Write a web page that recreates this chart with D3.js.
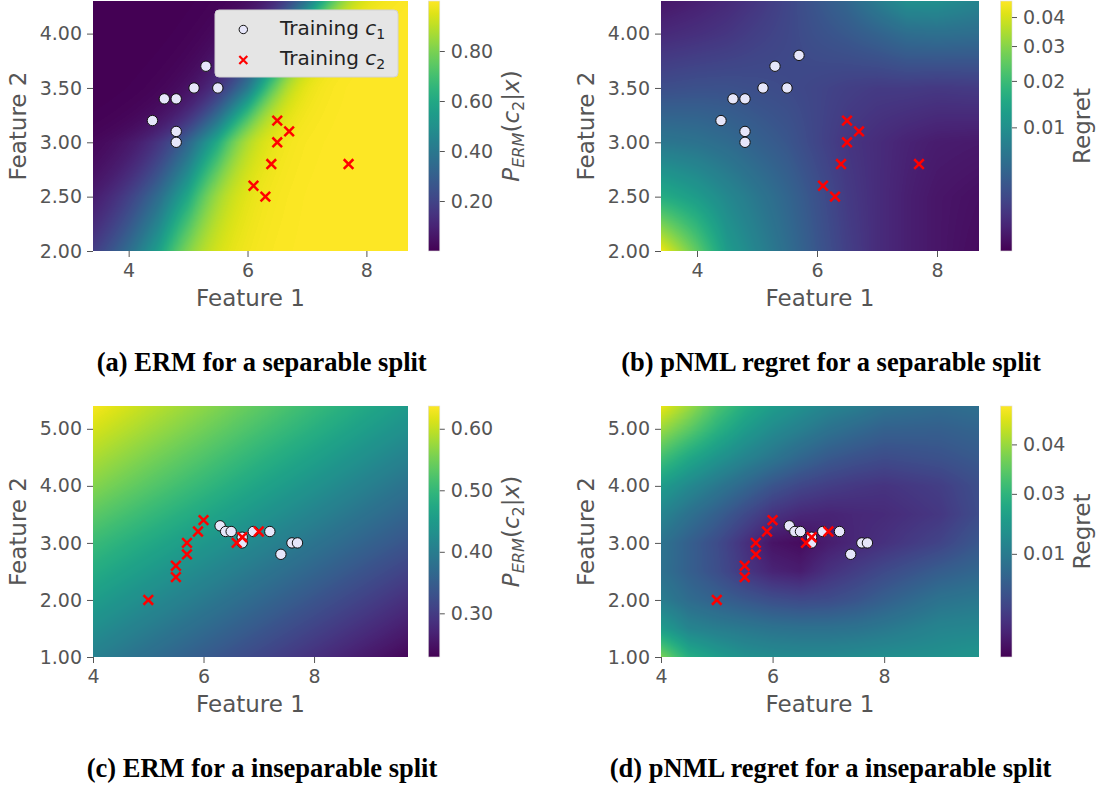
<!DOCTYPE html>
<html><head><meta charset="utf-8">
<script src="https://cdn.jsdelivr.net/npm/d3@7"></script>
<style>
body{margin:0;background:#fff}
svg{display:block}
text{font-family:"DejaVu Sans",sans-serif}
text.caption{font-family:"Liberation Serif","Times New Roman",serif;font-weight:bold}
</style>
</head><body>
<svg id="fig" width="1109" height="790"></svg>
<script>
// ---------------- data ----------------
const sepClass1 = [[4.4,3.2],[4.6,3.4],[4.8,3.4],[4.8,3.1],[4.8,3.0],[5.1,3.5],[5.3,3.7],[5.5,3.5],[5.7,3.8]];
const sepClass2 = [[6.5,3.2],[6.7,3.1],[6.5,3.0],[6.4,2.8],[6.1,2.6],[6.3,2.5],[7.7,2.8]];
const insepClass1 = [[6.3,3.3],[6.4,3.2],[6.5,3.2],[6.7,3.1],[6.7,3.0],[6.9,3.2],[7.2,3.2],[7.4,2.8],[7.6,3.0],[7.7,3.0]];
const insepClass2 = [[5.0,2.0],[5.5,2.4],[5.5,2.6],[5.7,2.8],[5.7,3.0],[5.9,3.2],[6.0,3.4],[6.6,3.0],[6.7,3.1],[7.0,3.2]];

// grid nodes (feature 1, feature 2) for the separable split
const sepGridX = [3.4,4.0,4.5,5.0,5.5,6.0,6.5,7.0,7.5,8.0,8.7];
const sepGridY = [2.0,2.5,3.0,3.5,4.0,4.3];
// P_ERM(c2|x), rows follow sepGridY
const ermSepProb = [
  [0.182,0.354,0.560,0.808,0.933,0.979,0.994,0.998,0.999,1.000,1.000],
  [0.078,0.191,0.355,0.600,0.853,0.957,0.988,0.997,0.999,1.000,1.000],
  [0.020,0.063,0.154,0.332,0.611,0.875,0.969,0.993,0.998,0.999,1.000],
  [0.0008,0.0037,0.0135,0.048,0.156,0.404,0.791,0.962,0.994,0.999,1.000],
  [0.0002,0.0005,0.0018,0.0074,0.029,0.109,0.332,0.721,0.945,0.991,0.9994],
  [0.0001,0.0001,0.0006,0.0024,0.0098,0.038,0.139,0.397,0.773,0.951,0.9955]
];
// pNML regret, rows follow sepGridY
const regretSep = [
  [0.0438,0.0248,0.0124,0.0080,0.0049,0.0026,0.0012,0.0005,0.00022,0.00009,0.00002],
  [0.0162,0.0124,0.0088,0.0061,0.0040,0.0022,0.0010,0.0005,0.00022,0.00009,0.00004],
  [0.0061,0.0055,0.0046,0.0035,0.0026,0.0015,0.0008,0.0005,0.00028,0.00017,0.00013],
  [0.0020,0.0022,0.0022,0.0020,0.0018,0.0015,0.0012,0.0010,0.0010,0.0009,0.0010],
  [0.00042,0.00059,0.0008,0.0012,0.0016,0.0022,0.0028,0.0037,0.0049,0.0052,0.0049],
  [0.00009,0.00022,0.00042,0.0008,0.0015,0.0026,0.0040,0.0068,0.0101,0.0101,0.0080]
];

// inseparable split
const ermInsepGridX = [4.0,5.0,6.0,7.0,8.0,9.0,9.7];
const ermInsepGridY = [1.0,2.0,3.0,4.0,5.0,5.4];
const ermInsepProb = [
  [0.405,0.375,0.345,0.315,0.285,0.255,0.235],
  [0.455,0.425,0.395,0.365,0.335,0.305,0.283],
  [0.505,0.475,0.445,0.415,0.385,0.355,0.335],
  [0.562,0.530,0.499,0.467,0.436,0.404,0.382],
  [0.612,0.580,0.549,0.517,0.486,0.454,0.432],
  [0.632,0.598,0.567,0.535,0.504,0.472,0.450]
];
const regretInsepGridX = [4.0,4.5,5.0,5.5,6.0,6.5,7.0,7.5,8.0,9.0,9.7];
const regretInsepGridY = [1.0,1.5,2.0,2.5,3.0,3.5,4.0,4.5,5.0,5.4];
const regretInsep = [
  [0.0376,0.0275,0.0216,0.0174,0.0158,0.0149,0.0149,0.0158,0.0166,0.0174,0.0191],
  [0.0216,0.0133,0.0108,0.0097,0.0092,0.0090,0.0090,0.0092,0.0097,0.0133,0.0141],
  [0.0108,0.0085,0.0075,0.0066,0.0058,0.0054,0.0056,0.0063,0.0073,0.0092,0.0097],
  [0.0090,0.0073,0.0058,0.0039,0.0024,0.0019,0.0034,0.0044,0.0054,0.0071,0.0080],
  [0.0092,0.0073,0.0056,0.0034,0.0012,0.0007,0.0019,0.0027,0.0034,0.0049,0.0066],
  [0.0133,0.0090,0.0073,0.0054,0.0036,0.0027,0.0024,0.0027,0.0029,0.0039,0.0056],
  [0.0216,0.0149,0.0097,0.0080,0.0063,0.0051,0.0044,0.0039,0.0036,0.0044,0.0058],
  [0.0325,0.0258,0.0191,0.0133,0.0095,0.0080,0.0068,0.0061,0.0056,0.0061,0.0068],
  [0.0402,0.0351,0.0292,0.0216,0.0158,0.0116,0.0092,0.0083,0.0075,0.0073,0.0078],
  [0.0464,0.0402,0.0336,0.0275,0.0216,0.0174,0.0133,0.0108,0.0092,0.0085,0.0088]
];

// axis domains and ticks
const sepXDomain = [3.4,8.7], sepYDomain = [2.0,4.3];
const insepXDomain = [4.0,9.7], insepYDomain = [1.0,5.4];
const sepXTicks = [4,6,8], sepYTicks = [2.0,2.5,3.0,3.5,4.0];
const insepXTicks = [4,6,8], insepYTicks = [1,2,3,4,5];
const ermSepRange = [0.0,1.0], ermSepTicks = [0.2,0.4,0.6,0.8];
const ermInsepRange = [0.229,0.637], ermInsepTicks = [0.3,0.4,0.5,0.6];
const regretSepRange = [0,0.0462], regretSepGamma = 0.46, regretSepTicks = [0.01,0.02,0.03,0.04];
const regretInsepStops = [0,0.01,0.03,0.04,0.048], regretInsepStopLevels = [0,0.411,0.650,0.847,1];
const regretInsepTicks = [0.01,0.03,0.04];
const legendLabels = ["1","2"];
const captions = ["(a) ERM for a separable split","(b) pNML regret for a separable split",
                  "(c) ERM for a inseparable split","(d) pNML regret for a inseparable split"];

// ---------------- helpers ----------------
const svg = d3.select("#fig");
svg.append("rect").attr("width",1109).attr("height",790).attr("fill","#fff");
const defs = svg.append("defs");
const GRAY = "#555555";

const LUT = d3.range(1024).map(i => d3.rgb(d3.interpolateViridis(i/1023)));

function bilinear(xs, ys, g, x, y, f){
  const i = Math.max(0, Math.min(xs.length-2, d3.bisectRight(xs, x)-1));
  const j = Math.max(0, Math.min(ys.length-2, d3.bisectRight(ys, y)-1));
  const tx = Math.max(0, Math.min(1, (x-xs[i])/(xs[i+1]-xs[i])));
  const ty = Math.max(0, Math.min(1, (y-ys[j])/(ys[j+1]-ys[j])));
  const a=f(g[j][i]), b=f(g[j][i+1]), c=f(g[j+1][i]), d=f(g[j+1][i+1]);
  return a*(1-tx)*(1-ty)+b*tx*(1-ty)+c*(1-tx)*ty+d*tx*ty;
}
const logit = p => { p=Math.max(1e-5,Math.min(1-1e-5,p)); return Math.log(p/(1-p)); };
const sigm = z => 1/(1+Math.exp(-z));

const panels = [
  {x0:93, x1:408, y0:1, y1:251, xDom:sepXDomain, yDom:sepYDomain, xT:sepXTicks, yT:sepYTicks,
   gx:sepGridX, gy:sepGridY, grid:ermSepProb,
   norm:d3.scaleLinear().domain(ermSepRange).range([0,1]).clamp(true),
   interp:"logit", cbTicks:ermSepTicks, cbx:428.3, label:"perm", c1:sepClass1, c2:sepClass2, legend:true,
   cap:captions[0], capX:261.7, capY:371},
  {x0:661, x1:979, y0:1, y1:251, xDom:sepXDomain, yDom:sepYDomain, xT:sepXTicks, yT:sepYTicks,
   gx:sepGridX, gy:sepGridY, grid:regretSep,
   norm:d3.scalePow().exponent(regretSepGamma).domain(regretSepRange).range([0,1]).clamp(true),
   interp:"norm", cbTicks:regretSepTicks, cbx:1000.5, label:"regret", c1:sepClass1, c2:sepClass2,
   cap:captions[1], capX:831, capY:371},
  {x0:93, x1:408, y0:406, y1:657, xDom:insepXDomain, yDom:insepYDomain, xT:insepXTicks, yT:insepYTicks,
   gx:ermInsepGridX, gy:ermInsepGridY, grid:ermInsepProb,
   norm:d3.scaleLinear().domain(ermInsepRange).range([0,1]).clamp(true),
   interp:"lin", cbTicks:ermInsepTicks, cbx:428.3, label:"perm", c1:insepClass1, c2:insepClass2,
   cap:captions[2], capX:262, capY:777},
  {x0:661, x1:979, y0:406, y1:657, xDom:insepXDomain, yDom:insepYDomain, xT:insepXTicks, yT:insepYTicks,
   gx:regretInsepGridX, gy:regretInsepGridY, grid:regretInsep,
   norm:d3.scaleLinear().domain(regretInsepStops).range(regretInsepStopLevels).clamp(true),
   interp:"norm", cbTicks:regretInsepTicks, cbx:1000.5, label:"regret", c1:insepClass1, c2:insepClass2,
   cap:captions[3], capX:830.5, capY:777}
];

// colorbar gradient
const grad = defs.append("linearGradient").attr("id","viridis").attr("x1",0).attr("y1",1).attr("x2",0).attr("y2",0);
d3.range(0,1.0001,0.05).forEach(t => grad.append("stop").attr("offset",t).attr("stop-color",d3.interpolateViridis(t)));

function drawCross(g, cx, cy, h, w){
  g.append("path").attr("d",`M${cx-h},${cy-h}L${cx+h},${cy+h}M${cx-h},${cy+h}L${cx+h},${cy-h}`)
   .attr("stroke","#ff0000").attr("stroke-width",w).attr("fill","none");
}

function subText(t, parts, size){
  let prevSub = false;
  parts.forEach(([s, it, sub]) => {
    const ts = t.append("tspan").text(s);
    if (it) ts.attr("font-style","italic");
    if (sub) ts.attr("font-size", size*0.7);
    if (sub && !prevSub) ts.attr("dy", size*0.22);
    if (!sub && prevSub) ts.attr("dy", -size*0.22);
    prevSub = sub;
  });
}

panels.forEach(p => {
  const x = d3.scaleLinear().domain(p.xDom).range([p.x0,p.x1]);
  const y = d3.scaleLinear().domain(p.yDom).range([p.y1,p.y0]);
  const w = Math.round(p.x1-p.x0), h = Math.round(p.y1-p.y0);
  const cv = document.createElement("canvas"); cv.width=w; cv.height=h;
  const ctx = cv.getContext("2d"); const img = ctx.createImageData(w,h);
  let f, finv;
  if (p.interp==="logit"){ f = logit; finv = z => p.norm(sigm(z)); }
  else if (p.interp==="norm"){ f = v => p.norm(v); finv = t => t; }
  else { f = v => v; finv = v => p.norm(v); }
  for (let j=0;j<h;j++){
    const yy = y.invert(p.y0+j+0.5);
    for (let i=0;i<w;i++){
      const xx = x.invert(p.x0+i+0.5);
      const t = Math.max(0,Math.min(1,finv(bilinear(p.gx,p.gy,p.grid,xx,yy,f))));
      const c = LUT[Math.round(t*1023)];
      const k=(j*w+i)*4; img.data[k]=c.r; img.data[k+1]=c.g; img.data[k+2]=c.b; img.data[k+3]=255;
    }
  }
  ctx.putImageData(img,0,0);
  svg.append("image").attr("x",p.x0).attr("y",p.y0).attr("width",w).attr("height",h)
     .attr("preserveAspectRatio","none").attr("href",cv.toDataURL());

  const ax = svg.append("g").attr("transform",`translate(0,${p.y1})`)
    .call(d3.axisBottom(x).tickValues(p.xT).tickFormat(d3.format("d")).tickSize(6).tickPadding(7).tickSizeOuter(0));
  const ay = svg.append("g").attr("transform",`translate(${p.x0},0)`)
    .call(d3.axisLeft(y).tickValues(p.yT).tickFormat(d3.format(".2f")).tickSize(6).tickPadding(5).tickSizeOuter(0));
  [ax,ay].forEach(a => {
    a.select(".domain").remove();
    a.selectAll("line").attr("stroke",GRAY).attr("stroke-width",1);
    a.selectAll("text").attr("fill",GRAY).attr("font-size",19).attr("font-family","DejaVu Sans");
  });
  svg.append("text").attr("x",(p.x0+p.x1)/2).attr("y",p.y1+55).attr("text-anchor","middle")
    .attr("font-size",23).attr("fill",GRAY).text("Feature 1");
  svg.append("text").attr("transform",`translate(${p.x0-67.5},${(p.y0+p.y1)/2}) rotate(-90)`)
    .attr("text-anchor","middle").attr("font-size",23).attr("fill",GRAY).text("Feature 2");

  const pg = svg.append("g");
  p.c1.forEach(d => pg.append("circle").attr("cx",x(d[0])).attr("cy",y(d[1])).attr("r",5.2)
      .attr("fill","#e6e6fa").attr("stroke","#111").attr("stroke-width",1));
  p.c2.forEach(d => drawCross(pg, x(d[0]), y(d[1]), 4.8, 2.5));

  const cbW = 11.5;
  svg.append("rect").attr("x",p.cbx).attr("y",p.y0).attr("width",cbW).attr("height",p.y1-p.y0)
     .attr("fill","url(#viridis)").attr("stroke","#dddddd").attr("stroke-width",0.6);
  const cbScale = p.norm.copy().range(p.norm.range().map(r => p.y1 - r*(p.y1-p.y0))).clamp(false);
  const ac = svg.append("g").attr("transform",`translate(${p.cbx+cbW},0)`)
     .call(d3.axisRight(cbScale).tickValues(p.cbTicks).tickFormat(d3.format(".2f")).tickSize(5).tickPadding(6).tickSizeOuter(0));
  ac.select(".domain").remove();
  ac.selectAll("line").attr("stroke",GRAY);
  ac.selectAll("text").attr("fill",GRAY).attr("font-size",19).attr("font-family","DejaVu Sans");

  const lblX = p.label==="perm" ? 519 : 1090;
  const lt = svg.append("text").attr("transform",`translate(${lblX},${(p.y0+p.y1)/2}) rotate(-90)`)
     .attr("text-anchor","middle").attr("font-size",23).attr("fill",GRAY);
  if (p.label==="perm"){
    subText(lt, [["P",true,false],["ERM",true,true],["(",false,false],["c",true,false],["2",false,true],["|",false,false],["x",true,false],[")",false,false]], 23);
  } else lt.text("Regret");

  if (p.legend){
    const lg = svg.append("g");
    lg.append("rect").attr("x",215).attr("y",10).attr("width",183).attr("height",67).attr("rx",4)
      .attr("fill","#e5e5e5").attr("stroke","#d2d2d2").attr("stroke-width",1);
    lg.append("circle").attr("cx",243.3).attr("cy",29.5).attr("r",4.2).attr("fill","#e6e6fa").attr("stroke","#111").attr("stroke-width",1);
    drawCross(lg, 243.3, 60, 4, 2.2);
    legendLabels.forEach((s,i) => {
      const t = lg.append("text").attr("x",280).attr("y",35+i*29.5).attr("font-size",20).attr("fill","#222");
      subText(t, [["Training ",false,false],["c",true,false],[s,false,true]], 20);
    });
  }

  svg.append("text").attr("class","caption").attr("x",p.capX).attr("y",p.capY).attr("text-anchor","middle")
    .attr("font-size",26.5).attr("fill","#000").text(p.cap);
});
</script>
</body></html>
